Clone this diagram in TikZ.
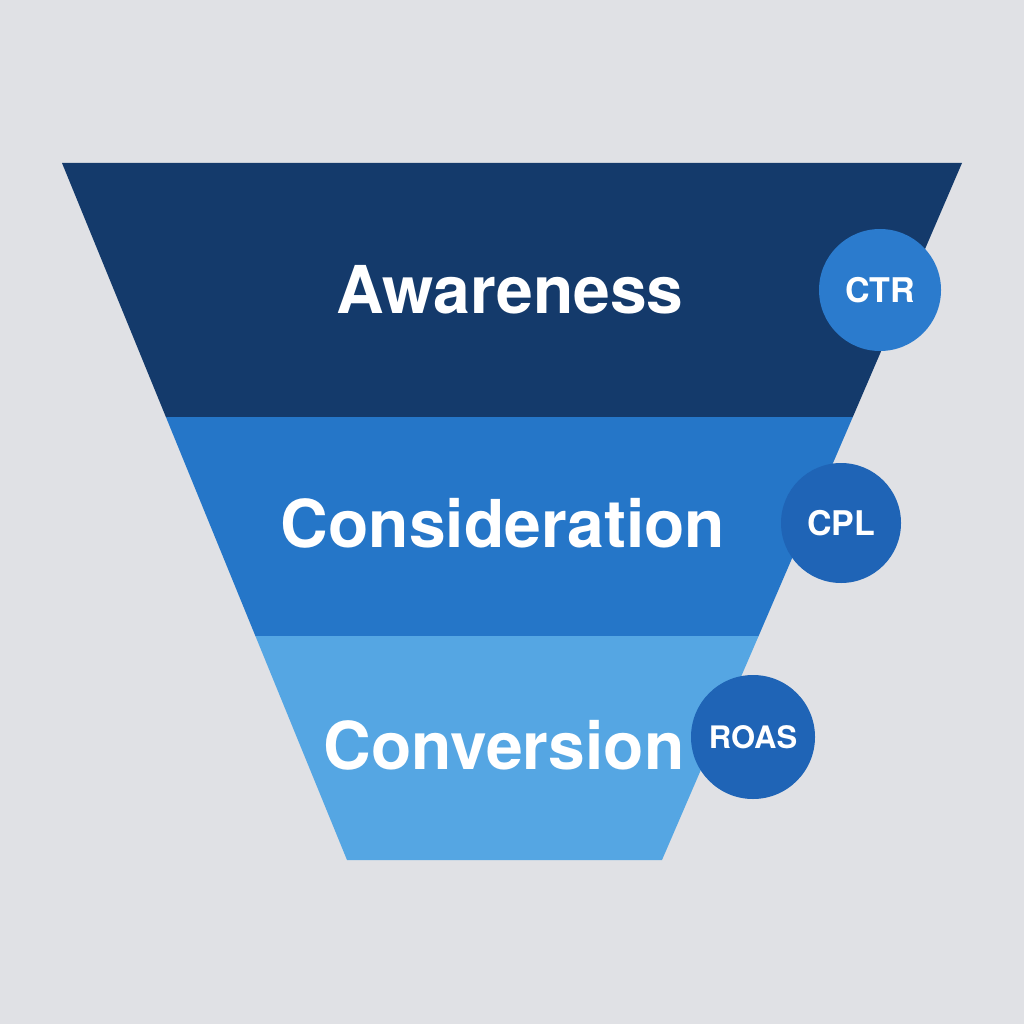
\documentclass[tikz,border=0pt]{standalone}
\usepackage{fontspec}
\setmainfont{TeX Gyre Heros}
\definecolor{bg}{HTML}{E0E1E5}
\definecolor{topc}{HTML}{143A6B}
\definecolor{midc}{HTML}{2576C8}
\definecolor{botc}{HTML}{55A6E3}
\definecolor{ctrc}{HTML}{2B7BCD}
\definecolor{badge}{HTML}{1F64B6}
\begin{document}
\begin{tikzpicture}[x=1pt,y=-1pt,
  lbl/.style={text=white,font=\fontsize{66}{66}\selectfont\bfseries,inner sep=0},
  badgec/.style={circle,minimum size=122pt,inner sep=0,text=white,font=\fontsize{34}{34}\selectfont\bfseries}]
\fill[bg] (0,0) rectangle (1024,1024);
\useasboundingbox (0,0) rectangle (1024,1024);
\fill[topc] (62,163) -- (962,163) -- (852.8,417) -- (165.9,417) -- cycle;
\fill[midc] (165.9,417) -- (852.8,417) -- (758.6,636) -- (255.4,636) -- cycle;
\fill[botc] (255.4,636) -- (758.6,636) -- (662,860) -- (347,860) -- cycle;
\node[lbl] (aw) at (510,290) {Awareness};
\node[lbl] (co) at (503,523) {Consideration};
\node[lbl] (cv) at (504,745) {Conversion};
\node[badgec,fill=ctrc] (ctr) at (880,290) {CTR};
\node[badgec,fill=badge,minimum size=120pt] (cpl) at (841,523) {CPL};
\node[badgec,fill=badge,minimum size=124pt,font=\fontsize{31}{31}\selectfont\bfseries] (roas) at (753,737) {ROAS};
\end{tikzpicture}
\end{document}
